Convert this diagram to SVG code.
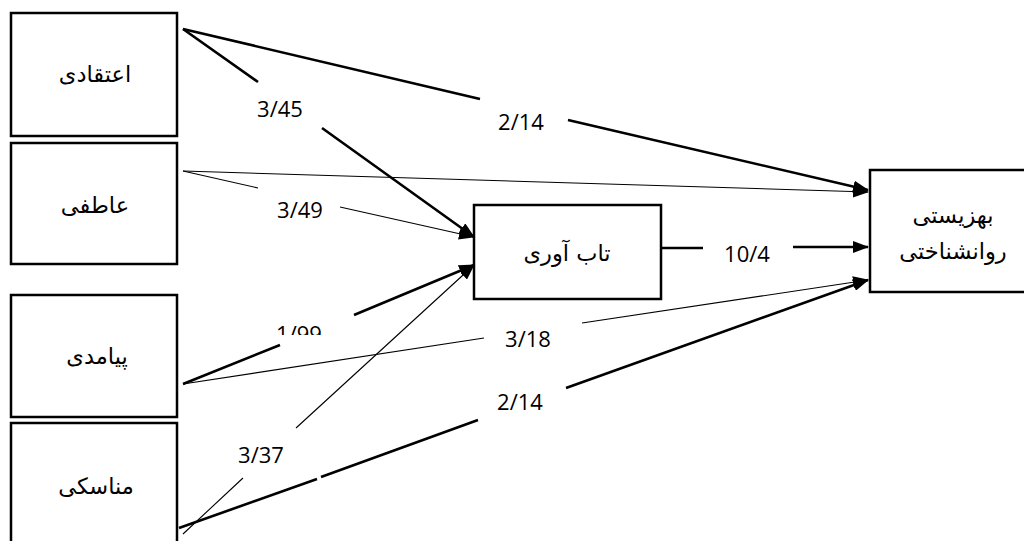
<svg xmlns="http://www.w3.org/2000/svg" width="1024" height="541" viewBox="0 0 1024 541">
<style>
.box{fill:#fff;stroke:#000;stroke-width:2.5}
.fa{font-family:"DejaVu Sans","Noto Sans",sans-serif;font-size:22.5px;fill:#000;text-anchor:middle}
.lbl{font-family:"Open Sans","Liberation Sans",sans-serif;font-size:22px;fill:#000;text-anchor:middle}
.thick{fill:none;stroke:#000;stroke-width:2.6}
.thin{fill:none;stroke:#000;stroke-width:1.1}
</style>
<defs>
<marker id="ah" markerUnits="userSpaceOnUse" markerWidth="16" markerHeight="12" refX="15" refY="6" orient="auto"><path d="M0,0 L16,6 L0,12 Z" fill="#000"/></marker>
<clipPath id="clip199"><rect x="260" y="310" width="80" height="25"/></clipPath>
</defs>
<g id="n-etghadi"><rect class="box" x="11" y="13" width="166" height="123"/><text class="fa" x="95" y="82">اعتقادی</text></g>
<g id="n-atefi"><rect class="box" x="11" y="143" width="166" height="121"/><text class="fa" x="95" y="213">عاطفی</text></g>
<g id="n-payamadi"><rect class="box" x="11" y="295" width="166" height="122"/><text class="fa" x="97" y="364">پیامدی</text></g>
<g id="n-manasaki"><rect class="box" x="11" y="423" width="166" height="130"/><text class="fa" x="96" y="494">مناسکی</text></g>
<g id="n-tabavari"><rect class="box" x="474" y="205" width="187" height="94"/><text class="fa" x="567" y="261">تاب آوری</text></g>
<g id="n-behzisti"><rect class="box" x="870" y="170" width="160" height="122"/><text class="fa" x="953" y="223">بهزیستی</text><text class="fa" x="953" y="259">روانشناختی</text></g>
<g id="connectors">
<path class="thick" d="M183,29 L480,99 M568,120 L868,190" marker-end="url(#ah)"/>
<path class="thick" d="M183,29 L258,82 M322,128 L474,237" marker-end="url(#ah)"/>
<path class="thin" d="M183,171 L868,192" marker-end="url(#ah)"/>
<path class="thin" d="M183,171 L258,188 M340,207 L474,237" marker-end="url(#ah)"/>
<path class="thick" d="M183,384 L280,345 M354,315 L474,265" marker-end="url(#ah)"/>
<path class="thin" d="M183,384 L484,338 M582,323 L868,280" marker-end="url(#ah)"/>
<path class="thin" d="M183,534 L243,478 M296,428 L474,265" marker-end="url(#ah)"/>
<path class="thick" d="M179,528 L317,479 M321,477 L478,420 M566,388 L868,280" marker-end="url(#ah)"/>
<path class="thick" d="M661,248 L703,248 M793,247 L868,247" marker-end="url(#ah)"/>
</g>
<g id="labels">
<text class="lbl" x="280" y="117">3/45</text>
<text class="lbl" x="521" y="130">2/14</text>
<text class="lbl" x="300" y="218">3/49</text>
<text class="lbl" x="747" y="262">10/4</text>
<text class="lbl" x="299" y="342" clip-path="url(#clip199)">1/99</text>
<text class="lbl" x="528" y="347">3/18</text>
<text class="lbl" x="520" y="410">2/14</text>
<text class="lbl" x="261" y="463">3/37</text>
</g>
</svg>
